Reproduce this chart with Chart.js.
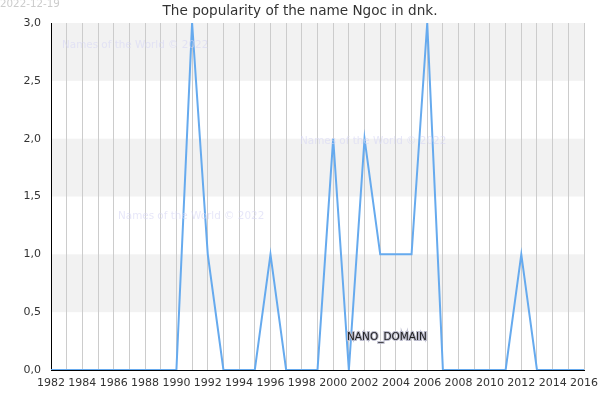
<!DOCTYPE html>
<html><head><meta charset="utf-8">
<script src="https://cdn.jsdelivr.net/npm/chart.js@4"></script>
<style>html,body{margin:0;padding:0;background:#fff}#wrap{width:600px;height:400px}</style>
</head><body><div id="wrap"><canvas id="c" width="600" height="400"></canvas></div>
<script>
const years = [1982,1983,1984,1985,1986,1987,1988,1989,1990,1991,1992,1993,1994,1995,1996,1997,1998,1999,2000,2001,2002,2003,2004,2005,2006,2007,2008,2009,2010,2011,2012,2013,2014,2015,2016];
const counts = [0,0,0,0,0,0,0,0,0,3,1,0,0,0,1,0,0,0,2,0,2,1,1,1,3,0,0,0,0,0,1,0,0,0,0];
const titleText = 'The popularity of the name Ngoc in dnk.';
const dateText = '2022-12-19';
const watermark = 'Names of the World © 2022';
const domainText = 'NANO_DOMAIN';
const FONT = '"DejaVu Sans", sans-serif';

const deco = {
  id: 'deco',
  beforeDraw(chart) {
    const {ctx, chartArea: a, scales: {y}} = chart;
    ctx.save();
    ctx.fillStyle = '#f2f2f2';
    for (let v = 0.5; v < 3; v += 1) {
      const t = y.getPixelForValue(v + 0.5), b = y.getPixelForValue(v);
      ctx.fillRect(a.left, t, a.right - a.left, b - t);
    }
    ctx.restore();
  },
  afterDraw(chart) {
    const {ctx} = chart;
    ctx.save();
    ctx.textBaseline = 'middle';
    ctx.font = '10.3px ' + FONT;
    ctx.fillStyle = '#cccccc';
    ctx.textAlign = 'left';
    ctx.fillText(dateText, 0, 4);
    ctx.font = '13.6px ' + FONT;
    ctx.fillStyle = '#333333';
    ctx.textAlign = 'center';
    ctx.fillText(titleText, 300, 11);
    ctx.font = '10.4px ' + FONT;
    ctx.fillStyle = 'rgba(215,215,245,0.6)';
    ctx.textAlign = 'left';
    ctx.fillText(watermark, 62, 45);
    ctx.fillText(watermark, 300, 141);
    ctx.fillText(watermark, 118, 216);
    ctx.font = '10.5px ' + FONT;
    ctx.lineWidth = 2;
    ctx.strokeStyle = '#bbbbcc';
    ctx.strokeText(domainText, 347, 337);
    ctx.fillStyle = '#222222';
    ctx.fillText(domainText, 347, 337);
    ctx.restore();
  }
};

new Chart(document.getElementById('c'), {
  type: 'line',
  data: {
    labels: years,
    datasets: [{
      data: years.map((yr, i) => ({x: yr, y: counts[i]})),
      borderColor: '#66aaee',
      borderWidth: 2,
      pointRadius: 0,
      tension: 0,
      fill: false
    }]
  },
  options: {
    responsive: false,
    animation: false,
    layout: {padding: {top: 23, right: 16, left: 0, bottom: 0}},
    plugins: {legend: {display: false}, title: {display: false}, tooltip: {enabled: false}},
    scales: {
      x: {
        type: 'linear', min: 1982, max: 2016,
        afterFit(s) { s.height = 30; s.paddingLeft = 0; s.paddingRight = 0; },
        ticks: {stepSize: 1, autoSkip: false, maxRotation: 0, color: '#333', font: {family: FONT, size: 11}, padding: 7,
          callback: v => (v % 2 === 0 ? String(v) : '')},
        grid: {color: '#cccccc', drawTicks: false},
        border: {color: '#000', width: 1}
      },
      y: {
        min: 0, max: 3,
        afterFit(s) { s.width = 51; s.paddingTop = 0; s.paddingBottom = 0; },
        ticks: {stepSize: 0.5, color: '#333', font: {family: FONT, size: 11}, padding: 10,
          callback: v => v.toFixed(1).replace('.', ',')},
        grid: {color: 'rgba(0,0,0,0)', drawTicks: false},
        border: {color: '#000', width: 1}
      }
    }
  },
  plugins: [deco]
});
</script></body></html>
